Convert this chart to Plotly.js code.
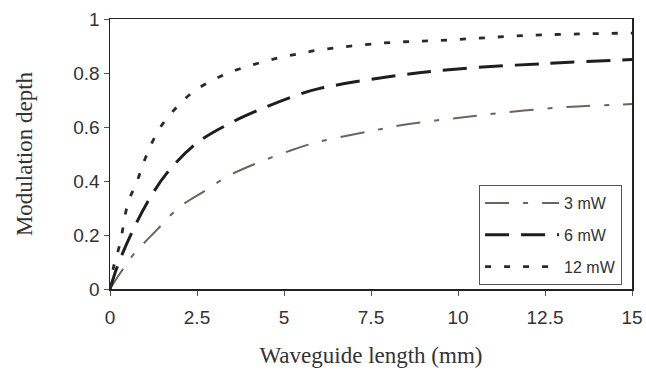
<!DOCTYPE html>
<html><head><meta charset="utf-8">
<script src="https://cdn.plot.ly/plotly-3.0.1.min.js"></script>
<style>html,body{margin:0;padding:0;background:#fff}#plot{width:646px;height:373px}</style>
</head><body><div id="plot"></div>
<script>
const x3 = [0, 0.3, 0.67, 1.34, 1.96, 2.68, 3.45, 4.3, 5.23, 6, 7.5, 8.4, 10.4, 12.7, 15];
const y3 = [0, 0.06, 0.127, 0.218, 0.30, 0.36, 0.422, 0.47, 0.515, 0.545, 0.585, 0.607, 0.64, 0.67, 0.685];
const x6 = [0, 0.2, 0.57, 1.06, 1.64, 2.49, 3.45, 4.5, 5.37, 6, 8, 10, 12.5, 15];
const y6 = [0, 0.08, 0.193, 0.318, 0.43, 0.54, 0.614, 0.675, 0.718, 0.742, 0.786, 0.815, 0.835, 0.85];
const x12 = [0, 0.1, 0.29, 0.52, 0.77, 0.96, 1.2, 1.49, 1.92, 2.39, 2.96, 3.54, 4.17, 4.8, 5.37, 6, 7.85, 9.68, 12.16, 15];
const y12 = [0, 0.08, 0.17, 0.32, 0.396, 0.466, 0.54, 0.607, 0.674, 0.73, 0.774, 0.807, 0.833, 0.855, 0.87, 0.885, 0.911, 0.922, 0.94, 0.948];
const names = ['3 mW', '6 mW', '12 mW'];

const traces = [
  {x: x3, y: y3, name: names[0], legendgroup: 'a', mode: 'lines', line: {color: '#6e6358', width: 2, dash: '24px,14px,5px,14px', shape: 'spline'}},
  {x: x6, y: y6, name: names[1], legendgroup: 'b', mode: 'lines', line: {color: '#1e1e1e', width: 3, dash: '24px,12px', shape: 'spline'}},
  {x: x12, y: y12, name: names[2], legendgroup: 'c', mode: 'lines', line: {color: '#2a2a2a', width: 2.8, dash: '6px,13px', shape: 'spline'}}
];
const tickFont = {family: 'Liberation Sans, Arial, sans-serif', size: 19, color: '#333'};
const titleFont = {family: 'Liberation Serif, Times New Roman, serif', size: 23, color: '#333'};
const layout = {
  width: 646, height: 373,
  margin: {l: 110, r: 14, t: 19, b: 84},
  paper_bgcolor: '#fff', plot_bgcolor: '#fff',
  showlegend: true,
  legend: {x: 0.981, y: 0.385, xanchor: 'right', yanchor: 'top', bgcolor: '#fff', bordercolor: '#555', borderwidth: 1,
    font: {family: 'Liberation Sans, Arial, sans-serif', size: 16, color: '#333'}, itemwidth: 74, tracegroupgap: 8},
  xaxis: {range: [0, 15], tickvals: [0, 2.5, 5, 7.5, 10, 12.5, 15], ticktext: ['0', '2.5', '5', '7.5', '10', '12.5', '15'],
    ticks: 'outside', ticklen: 5, tickcolor: '#555', showgrid: false, zeroline: false, ticklabelstandoff: 6,
    showline: true, linecolor: '#222', linewidth: 1.5, mirror: true, tickfont: tickFont,
    title: {text: 'Waveguide length (mm)', font: titleFont, standoff: 19}},
  yaxis: {range: [0, 1], tickvals: [0, 0.2, 0.4, 0.6, 0.8, 1], ticktext: ['0', '0.2', '0.4', '0.6', '0.8', '1'],
    ticks: 'outside', ticklen: 5, tickcolor: '#555', showgrid: false, zeroline: false,
    showline: true, linecolor: '#222', linewidth: 1.5, mirror: true, tickfont: tickFont,
    title: {text: 'Modulation depth', font: titleFont, standoff: 34}}
};
Plotly.newPlot('plot', traces, layout, {displayModeBar: false, staticPlot: true});
</script></body></html>
